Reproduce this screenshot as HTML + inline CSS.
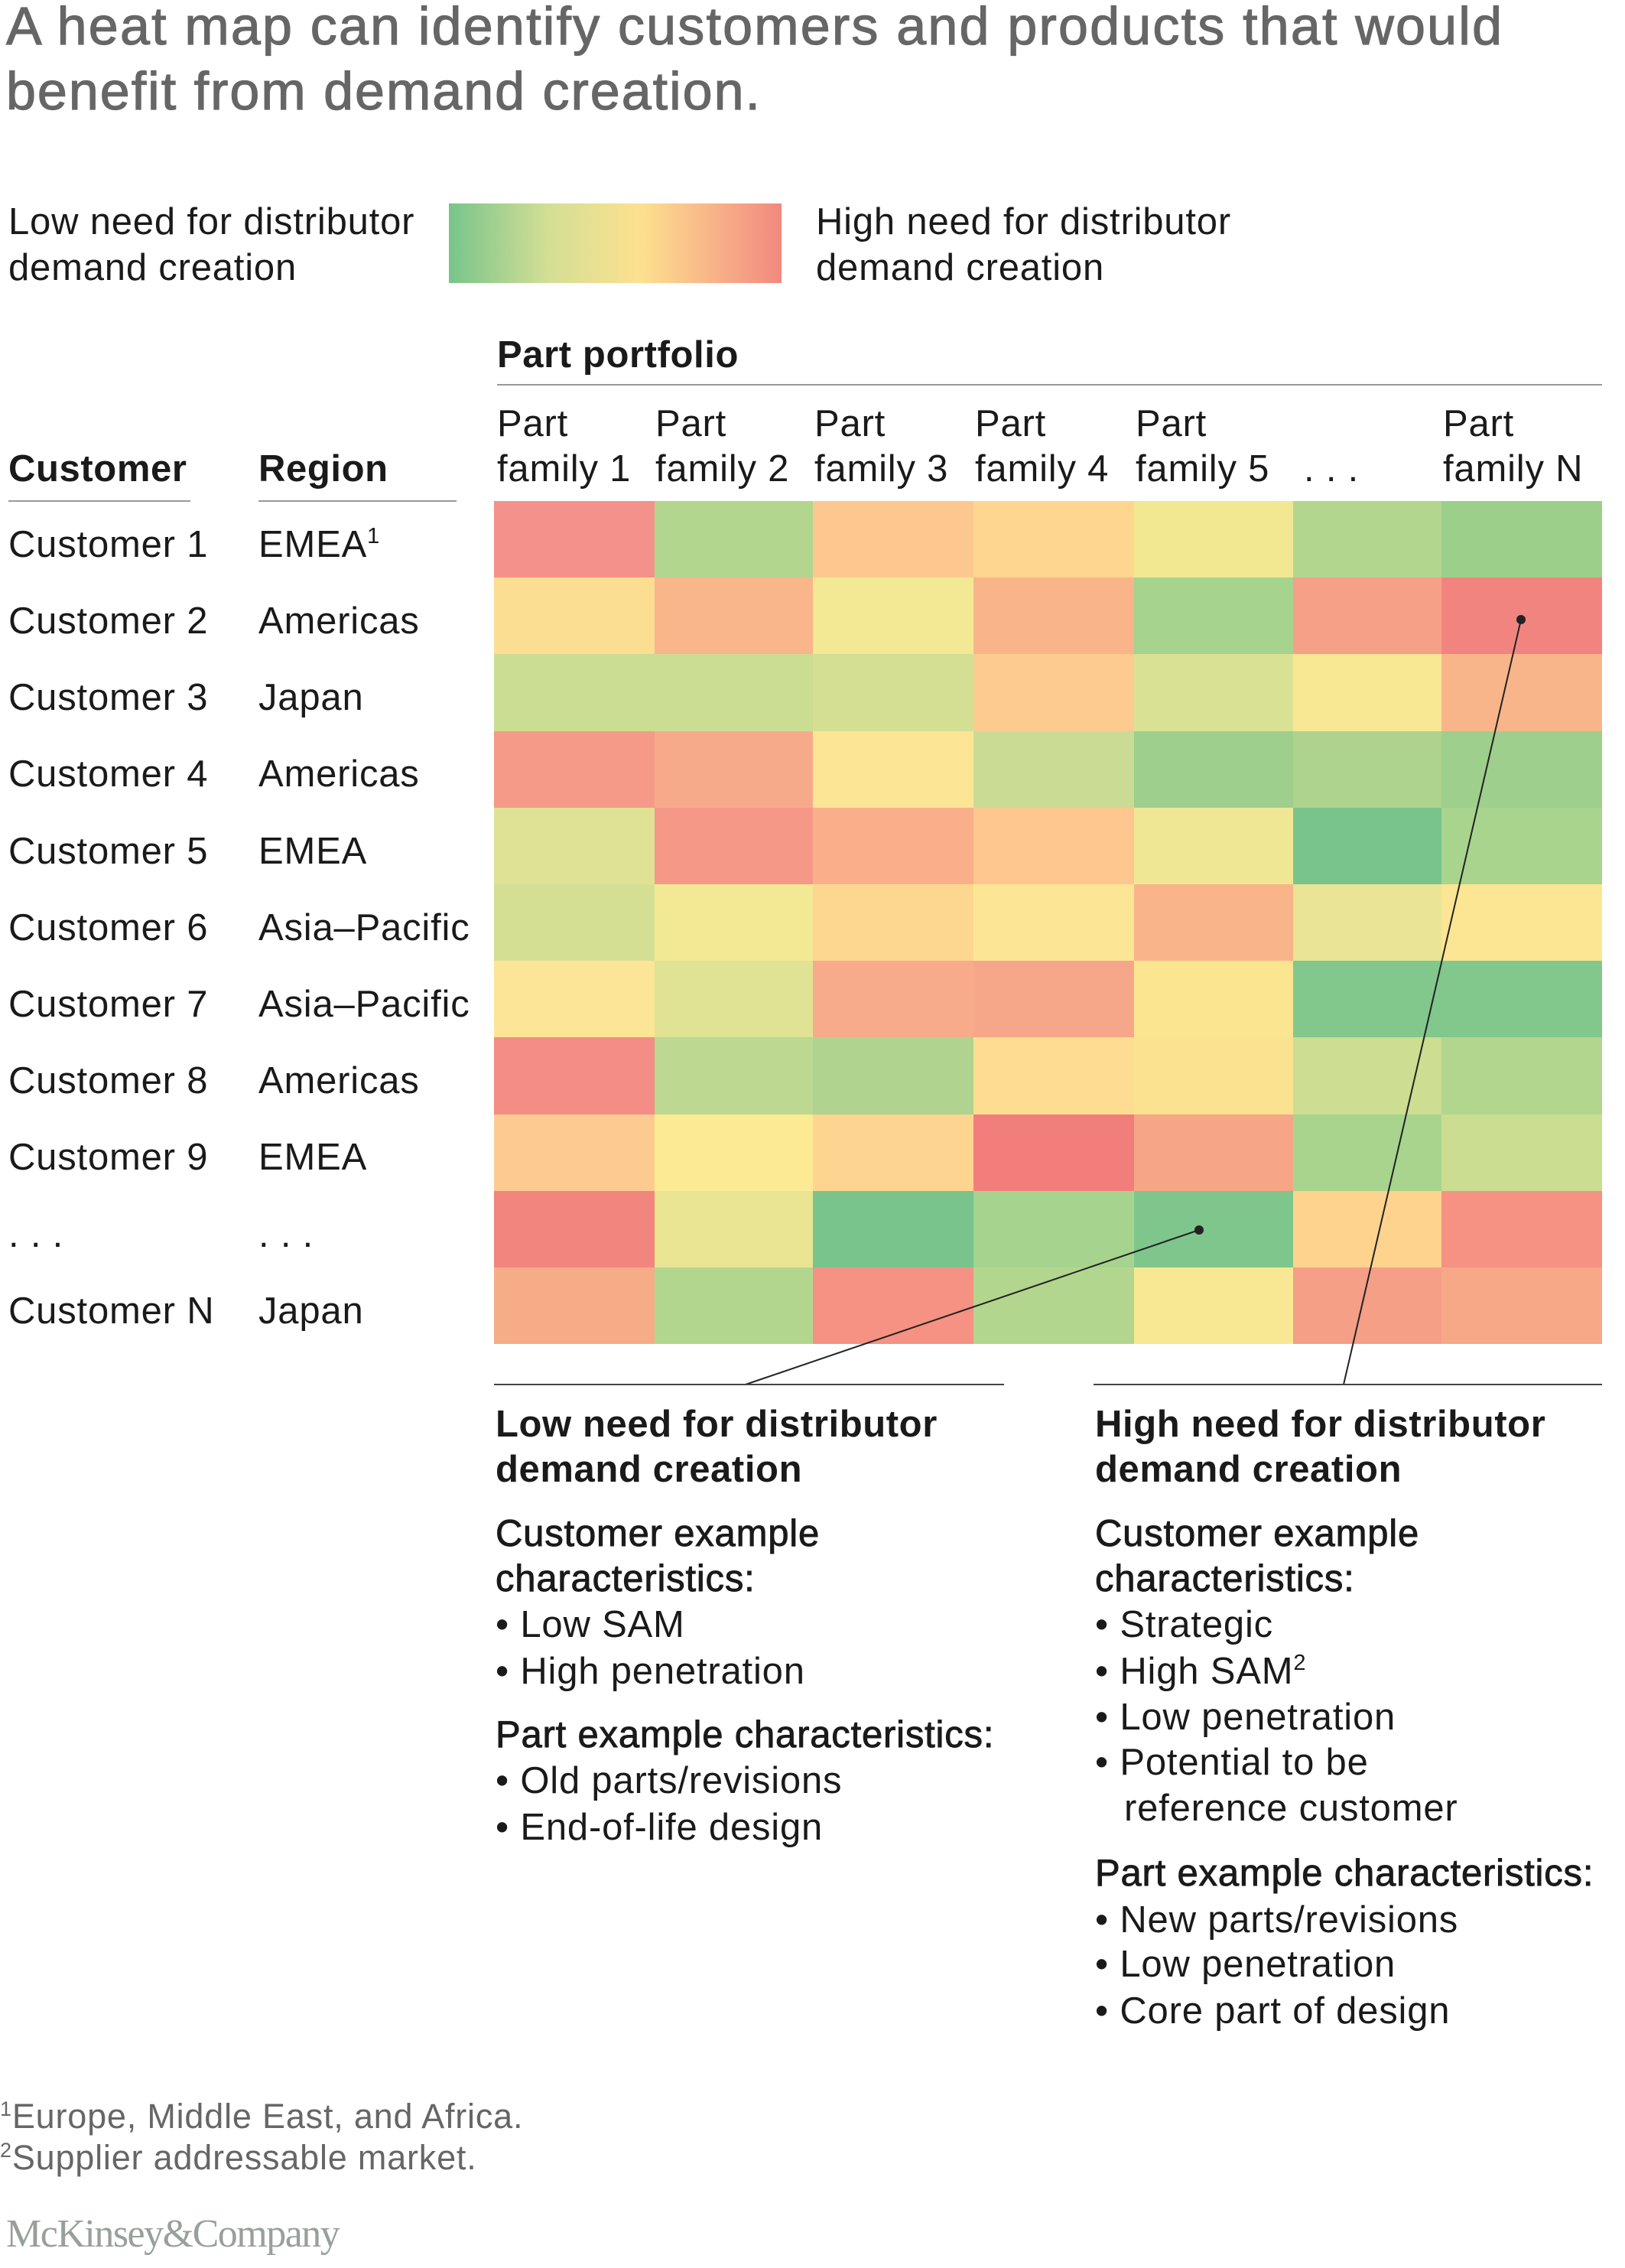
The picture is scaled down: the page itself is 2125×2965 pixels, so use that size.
<!DOCTYPE html>
<html><head><meta charset="utf-8"><style>
html,body{margin:0;padding:0;background:#fff;}
svg{display:block;}
text{font-family:"Liberation Sans",Arial,sans-serif;}
.t{font-size:49px;fill:#1a1a1a;letter-spacing:0.8px;}
.b{font-size:49px;fill:#1a1a1a;font-weight:bold;letter-spacing:0.6px;}
.m{font-size:49px;fill:#1a1a1a;stroke:#1a1a1a;stroke-width:0.9px;letter-spacing:0.8px;}
</style></head><body>
<svg width="2125" height="2965" viewBox="0 0 2125 2965" xmlns="http://www.w3.org/2000/svg">
<defs><linearGradient id="g" x1="0" x2="1" y1="0" y2="0">
<stop offset="0" stop-color="#78c48c"/><stop offset="0.3" stop-color="#d4df94"/><stop offset="0.58" stop-color="#fde08f"/><stop offset="1" stop-color="#f28880"/></linearGradient></defs>
<text x="8" y="58" font-size="70" fill="#666" stroke="#666" stroke-width="1.2" textLength="1956" lengthAdjust="spacing">A heat map can identify customers and products that would</text>
<text x="8" y="143" font-size="70" fill="#666" stroke="#666" stroke-width="1.2" textLength="986" lengthAdjust="spacing">benefit from demand creation.</text>
<text class="t" x="11" y="306">Low need for distributor</text>
<text class="t" x="11" y="366">demand creation</text>
<rect x="587" y="266" width="435" height="104" fill="url(#g)"/>
<text class="t" x="1067" y="306">High need for distributor</text>
<text class="t" x="1067" y="366">demand creation</text>
<text class="b" x="650" y="480">Part portfolio</text>
<line x1="650" y1="503" x2="2095" y2="503" stroke="#999" stroke-width="2"/>
<g class="t">
<text x="650" y="570">Part</text><text x="650" y="629">family 1</text>
<text x="857" y="570">Part</text><text x="857" y="629">family 2</text>
<text x="1065" y="570">Part</text><text x="1065" y="629">family 3</text>
<text x="1275" y="570">Part</text><text x="1275" y="629">family 4</text>
<text x="1485" y="570">Part</text><text x="1485" y="629">family 5</text>
<text x="1705" y="629">. . .</text>
<text x="1887" y="570">Part</text><text x="1887" y="629">family N</text>
</g>
<text class="b" x="11" y="629">Customer</text>
<text class="b" x="338" y="629">Region</text>
<line x1="11" y1="655" x2="249" y2="655" stroke="#999" stroke-width="2"/>
<line x1="338" y1="655" x2="597" y2="655" stroke="#999" stroke-width="2"/>
<g class="t">
<text x="11" y="728">Customer 1</text><text x="338" y="728">EMEA<tspan font-size="29" dy="-18">1</tspan></text>
<text x="11" y="828">Customer 2</text><text x="338" y="828">Americas</text>
<text x="11" y="928">Customer 3</text><text x="338" y="928">Japan</text>
<text x="11" y="1028">Customer 4</text><text x="338" y="1028">Americas</text>
<text x="11" y="1129">Customer 5</text><text x="338" y="1129">EMEA</text>
<text x="11" y="1229">Customer 6</text><text x="338" y="1229">Asia–Pacific</text>
<text x="11" y="1329">Customer 7</text><text x="338" y="1329">Asia–Pacific</text>
<text x="11" y="1429">Customer 8</text><text x="338" y="1429">Americas</text>
<text x="11" y="1529">Customer 9</text><text x="338" y="1529">EMEA</text>
<text x="11" y="1630">. . .</text><text x="338" y="1630">. . .</text>
<text x="11" y="1730">Customer N</text><text x="338" y="1730">Japan</text>
</g>
<g shape-rendering="crispEdges">
<rect x="646" y="655" width="211" height="101" fill="#f4918a"/><rect x="856" y="655" width="208" height="101" fill="#b3d68f"/><rect x="1063" y="655" width="211" height="101" fill="#fdc890"/><rect x="1273" y="655" width="211" height="101" fill="#fed68f"/><rect x="1483" y="655" width="209" height="101" fill="#f2e892"/><rect x="1691" y="655" width="195" height="101" fill="#b3d68f"/><rect x="1885" y="655" width="210" height="101" fill="#9ccf8a"/>
<rect x="646" y="755" width="211" height="101" fill="#fcde92"/><rect x="856" y="755" width="208" height="101" fill="#f9b68a"/><rect x="1063" y="755" width="211" height="101" fill="#f3e894"/><rect x="1273" y="755" width="211" height="101" fill="#f9b48a"/><rect x="1483" y="755" width="209" height="101" fill="#a6d38e"/><rect x="1691" y="755" width="195" height="101" fill="#f6a088"/><rect x="1885" y="755" width="210" height="101" fill="#f28480"/>
<rect x="646" y="855" width="211" height="101" fill="#cbdd93"/><rect x="856" y="855" width="208" height="101" fill="#cbdd93"/><rect x="1063" y="855" width="211" height="101" fill="#d4df94"/><rect x="1273" y="855" width="211" height="101" fill="#fdcb8f"/><rect x="1483" y="855" width="209" height="101" fill="#d9e194"/><rect x="1691" y="855" width="195" height="101" fill="#f8e893"/><rect x="1885" y="855" width="210" height="101" fill="#f9b58a"/>
<rect x="646" y="956" width="211" height="101" fill="#f59a88"/><rect x="856" y="956" width="208" height="101" fill="#f7aa8a"/><rect x="1063" y="956" width="211" height="101" fill="#fce696"/><rect x="1273" y="956" width="211" height="101" fill="#cadb93"/><rect x="1483" y="956" width="209" height="101" fill="#9ecf8c"/><rect x="1691" y="956" width="195" height="101" fill="#aed38e"/><rect x="1885" y="956" width="210" height="101" fill="#9ecf8c"/>
<rect x="646" y="1056" width="211" height="101" fill="#dfe294"/><rect x="856" y="1056" width="208" height="101" fill="#f59887"/><rect x="1063" y="1056" width="211" height="101" fill="#f9b08a"/><rect x="1273" y="1056" width="211" height="101" fill="#fdc78f"/><rect x="1483" y="1056" width="209" height="101" fill="#f0e795"/><rect x="1691" y="1056" width="195" height="101" fill="#78c48c"/><rect x="1885" y="1056" width="210" height="101" fill="#a8d48e"/>
<rect x="646" y="1156" width="211" height="101" fill="#d4df94"/><rect x="856" y="1156" width="208" height="101" fill="#f3e894"/><rect x="1063" y="1156" width="211" height="101" fill="#fdd690"/><rect x="1273" y="1156" width="211" height="101" fill="#fce696"/><rect x="1483" y="1156" width="209" height="101" fill="#f9b48a"/><rect x="1691" y="1156" width="195" height="101" fill="#e9e594"/><rect x="1885" y="1156" width="210" height="101" fill="#fce593"/>
<rect x="646" y="1256" width="211" height="101" fill="#fce596"/><rect x="856" y="1256" width="208" height="101" fill="#e0e294"/><rect x="1063" y="1256" width="211" height="101" fill="#f7ab8a"/><rect x="1273" y="1256" width="211" height="101" fill="#f6a789"/><rect x="1483" y="1256" width="209" height="101" fill="#fce591"/><rect x="1691" y="1256" width="195" height="101" fill="#82c78c"/><rect x="1885" y="1256" width="210" height="101" fill="#82c78c"/>
<rect x="646" y="1356" width="211" height="101" fill="#f38d85"/><rect x="856" y="1356" width="208" height="101" fill="#bcd891"/><rect x="1063" y="1356" width="211" height="101" fill="#b0d48f"/><rect x="1273" y="1356" width="211" height="101" fill="#fedd93"/><rect x="1483" y="1356" width="209" height="101" fill="#fbe290"/><rect x="1691" y="1356" width="195" height="101" fill="#cddd91"/><rect x="1885" y="1356" width="210" height="101" fill="#b3d68f"/>
<rect x="646" y="1457" width="211" height="101" fill="#fdcb92"/><rect x="856" y="1457" width="208" height="101" fill="#fdea95"/><rect x="1063" y="1457" width="211" height="101" fill="#fed590"/><rect x="1273" y="1457" width="211" height="101" fill="#f27e7c"/><rect x="1483" y="1457" width="209" height="101" fill="#f6a587"/><rect x="1691" y="1457" width="195" height="101" fill="#a8d48e"/><rect x="1885" y="1457" width="210" height="101" fill="#cadd90"/>
<rect x="646" y="1557" width="211" height="101" fill="#f3857f"/><rect x="856" y="1557" width="208" height="101" fill="#e9e593"/><rect x="1063" y="1557" width="211" height="101" fill="#78c48c"/><rect x="1273" y="1557" width="211" height="101" fill="#a6d38e"/><rect x="1483" y="1557" width="209" height="101" fill="#7fc68c"/><rect x="1691" y="1557" width="195" height="101" fill="#fdd38e"/><rect x="1885" y="1557" width="210" height="101" fill="#f59283"/>
<rect x="646" y="1657" width="211" height="100" fill="#f7ac88"/><rect x="856" y="1657" width="208" height="100" fill="#b3d68f"/><rect x="1063" y="1657" width="211" height="100" fill="#f59283"/><rect x="1273" y="1657" width="211" height="100" fill="#b3d68f"/><rect x="1483" y="1657" width="209" height="100" fill="#f8e894"/><rect x="1691" y="1657" width="195" height="100" fill="#f59f86"/><rect x="1885" y="1657" width="210" height="100" fill="#f7a886"/>
</g>
<line x1="1568" y1="1608" x2="975" y2="1810" stroke="#222" stroke-width="2"/>
<line x1="1989" y1="810" x2="1757" y2="1810" stroke="#222" stroke-width="2"/>
<circle cx="1568" cy="1608" r="6" fill="#222"/>
<circle cx="1989" cy="810" r="6" fill="#222"/>
<line x1="646" y1="1810" x2="1313" y2="1810" stroke="#444" stroke-width="2"/>
<line x1="1430" y1="1810" x2="2095" y2="1810" stroke="#444" stroke-width="2"/>
<g class="b">
<text x="648" y="1878">Low need for distributor</text><text x="648" y="1937">demand creation</text>
<text x="1432" y="1878">High need for distributor</text><text x="1432" y="1937">demand creation</text>
</g>
<g class="m">
<text x="648" y="2021">Customer example</text><text x="648" y="2080">characteristics:</text>
<text x="648" y="2284">Part example characteristics:</text>
<text x="1432" y="2021">Customer example</text><text x="1432" y="2080">characteristics:</text>
<text x="1432" y="2465">Part example characteristics:</text>
</g>
<g class="t">
<text x="648" y="2140">• Low SAM</text>
<text x="648" y="2201">• High penetration</text>
<text x="648" y="2344">• Old parts/revisions</text>
<text x="648" y="2405">• End-of-life design</text>
<text x="1432" y="2140">• Strategic</text>
<text x="1432" y="2201">• High SAM<tspan font-size="29" dy="-18">2</tspan></text>
<text x="1432" y="2261">• Low penetration</text>
<text x="1432" y="2320">• Potential to be</text>
<text x="1470" y="2380">reference customer</text>
<text x="1432" y="2526">• New parts/revisions</text>
<text x="1432" y="2584">• Low penetration</text>
<text x="1432" y="2645">• Core part of design</text>
</g>
<text x="0" y="2782" font-size="45" fill="#666" letter-spacing="0.8"><tspan font-size="27" dy="-16">1</tspan><tspan dy="16">Europe, Middle East, and Africa.</tspan></text>
<text x="0" y="2836" font-size="45" fill="#666" letter-spacing="0.8"><tspan font-size="27" dy="-16">2</tspan><tspan dy="16">Supplier addressable market.</tspan></text>
<text x="8" y="2937" font-size="52" fill="#97a09b" style="font-family:'Liberation Serif',serif" letter-spacing="-1.5">McKinsey&amp;Company</text>
</svg>
</body></html>
